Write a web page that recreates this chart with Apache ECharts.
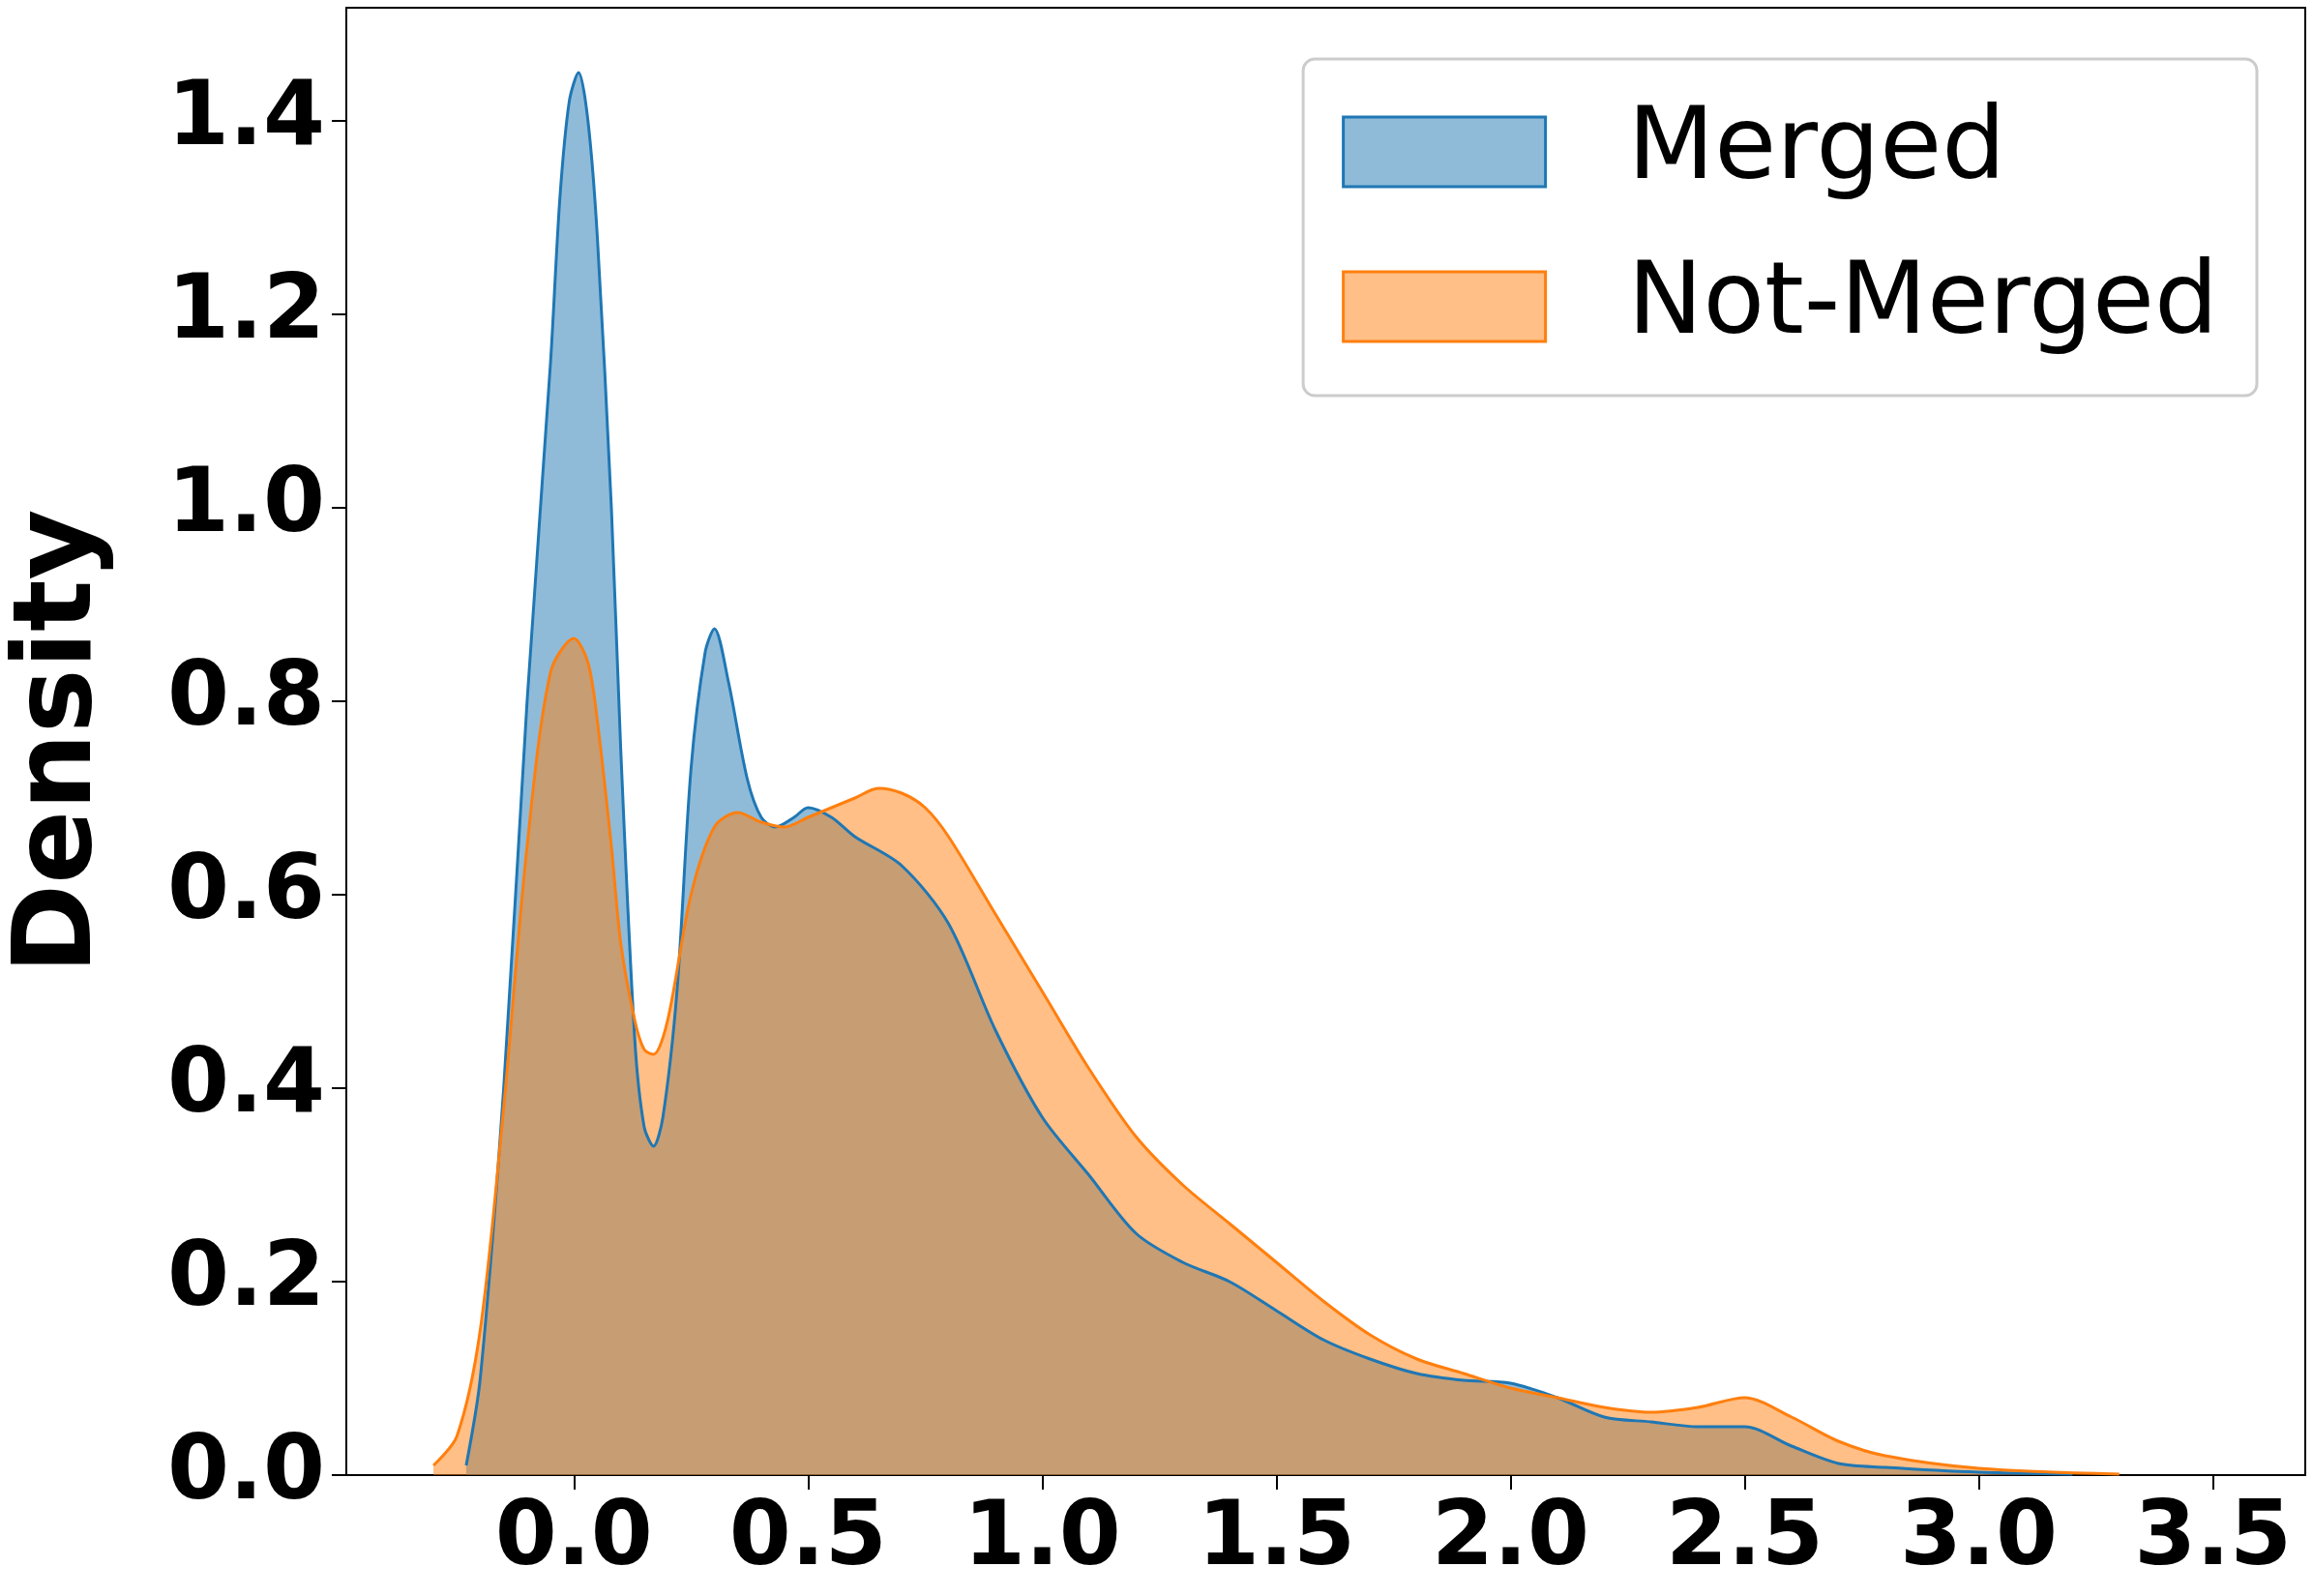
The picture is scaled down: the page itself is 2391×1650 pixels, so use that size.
<!DOCTYPE html>
<html><head><meta charset="utf-8">
<script src="https://cdn.jsdelivr.net/npm/echarts@6/dist/echarts.min.js"></script>
<style>html,body{margin:0;padding:0;background:#fff}#c{width:2391px;height:1650px}</style>
</head><body><div id="c"></div>
<script>
const mergedX = [-0.23,-0.2,-0.15,-0.1,-0.05,-0.03,-0.01,0.01,0.03,0.05,0.08,0.1,0.13,0.15,0.17,0.19,0.22,0.25,0.28,0.3,0.33,0.37,0.4,0.43,0.47,0.5,0.55,0.6,0.7,0.8,0.9,1.0,1.1,1.2,1.3,1.4,1.5,1.6,1.7,1.8,1.9,2.0,2.1,2.2,2.3,2.4,2.5,2.6,2.7,2.8,3.0,3.2];
const mergedY = [0.01,0.1,0.4,0.8,1.15,1.32,1.42,1.45,1.40,1.28,1.0,0.75,0.45,0.36,0.34,0.37,0.5,0.73,0.85,0.875,0.82,0.72,0.68,0.67,0.68,0.69,0.68,0.66,0.63,0.57,0.46,0.37,0.31,0.25,0.22,0.2,0.17,0.14,0.12,0.105,0.098,0.095,0.08,0.06,0.055,0.05,0.05,0.03,0.012,0.008,0.003,0.001];
const notMergedX = [-0.3,-0.25,-0.2,-0.15,-0.1,-0.05,0.0,0.03,0.05,0.08,0.1,0.13,0.15,0.17,0.2,0.25,0.3,0.35,0.4,0.45,0.5,0.55,0.6,0.65,0.7,0.75,0.8,0.9,1.0,1.1,1.2,1.3,1.4,1.5,1.6,1.7,1.8,1.9,2.0,2.1,2.2,2.3,2.4,2.5,2.6,2.7,2.8,3.0,3.3];
const notMergedY = [0.01,0.04,0.15,0.38,0.65,0.83,0.865,0.84,0.78,0.65,0.55,0.47,0.44,0.435,0.47,0.6,0.67,0.685,0.675,0.67,0.68,0.69,0.7,0.71,0.705,0.69,0.66,0.58,0.5,0.42,0.35,0.3,0.26,0.22,0.18,0.145,0.12,0.105,0.09,0.08,0.07,0.065,0.07,0.08,0.06,0.035,0.02,0.007,0.001];
const xTicks = [0,0.5,1,1.5,2,2.5,3,3.5];
const yTicks = [0,0.2,0.4,0.6,0.8,1.0,1.2,1.4];
const names = ['Merged','Not-Merged'];
const chart = echarts.init(document.getElementById('c'));
const pair = (xs, ys) => xs.map((x, i) => [x, ys[i]]);
const tickFont = {fontFamily:'DejaVu Sans', fontWeight:'bold', fontSize:92, color:'#000'};
chart.setOption({
  animation:false,
  grid:{left:349, top:8, width:2034, height:1517, show:true, borderColor:'#000', borderWidth:2},
  legend:{
    right:58, top:61, orient:'vertical', padding:[44,40,40,40],
    itemWidth:209, itemHeight:72, itemGap:56,
    backgroundColor:'#fff', borderColor:'#ccc', borderWidth:3, borderRadius:12,
    textStyle:{fontFamily:'DejaVu Sans', fontSize:104, color:'#000', padding:[0,0,0,80]},
    data:[
      {name:names[0], icon:'rect', itemStyle:{color:'rgba(31,119,180,0.5)', borderColor:'#1f77b4', borderWidth:3}},
      {name:names[1], icon:'rect', itemStyle:{color:'rgba(255,127,14,0.5)', borderColor:'#ff7f0e', borderWidth:3}}
    ]
  },
  xAxis:{type:'value', min:-0.486, max:3.697,
    axisLine:{show:true, onZero:false, lineStyle:{color:'#000', width:2}},
    axisTick:{show:true, length:15, lineStyle:{color:'#000', width:2}, customValues:xTicks},
    axisLabel:{...tickFont, margin:22, customValues:xTicks, formatter:v=>v.toFixed(1)},
    splitLine:{show:false}},
  yAxis:{type:'value', min:0, max:1.517, name:'Density', nameLocation:'middle', nameGap:238,
    nameTextStyle:{fontFamily:'DejaVu Sans', fontWeight:'bold', fontSize:112, color:'#000'},
    axisLine:{show:true, onZero:false, lineStyle:{color:'#000', width:2}},
    axisTick:{show:true, length:15, lineStyle:{color:'#000', width:2}, customValues:yTicks},
    axisLabel:{...tickFont, margin:22, customValues:yTicks, formatter:v=>v.toFixed(1)},
    splitLine:{show:false}},
  series:[
    {name:names[0], type:'line', smooth:0.3, showSymbol:false, data:pair(mergedX, mergedY),
      lineStyle:{color:'#1f77b4', width:3}, itemStyle:{color:'#1f77b4'},
      areaStyle:{color:'#1f77b4', opacity:0.5}},
    {name:names[1], type:'line', smooth:0.3, showSymbol:false, data:pair(notMergedX, notMergedY),
      lineStyle:{color:'#ff7f0e', width:3}, itemStyle:{color:'#ff7f0e'},
      areaStyle:{color:'#ff7f0e', opacity:0.5}}
  ]
});
</script></body></html>
